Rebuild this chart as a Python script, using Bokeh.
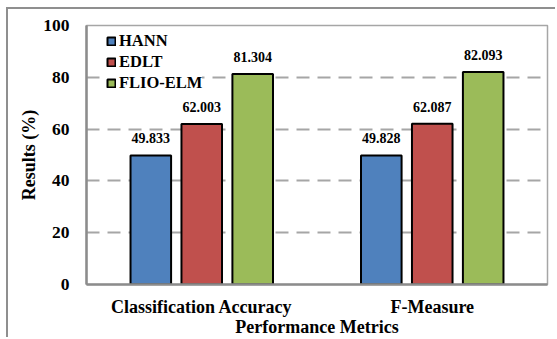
import math
from bokeh.plotting import figure
from bokeh.models import ColumnDataSource, FactorRange, Range1d, LabelSet, Title, FixedTicker
from bokeh.transform import dodge
from bokeh.embed import file_html
from bokeh.resources import INLINE

categories = ["Classification Accuracy", "F-Measure"]
series = ["HANN", "EDLT", "FLIO-ELM"]
hann = [49.833, 49.828]
edlt = [62.003, 62.087]
flio = [81.304, 82.093]
colors = ["#4F81BD", "#C0504D", "#9BBB59"]
y_ticks = [0, 20, 40, 60, 80, 100]

FONT = "'Liberation Serif', 'DejaVu Serif', serif"

src = ColumnDataSource(data=dict(
    cats=categories,
    HANN=hann, EDLT=edlt, FLIO=flio,
    HANN_t=[f"{v:.3f}" for v in hann],
    EDLT_t=[f"{v:.3f}" for v in edlt],
    FLIO_t=[f"{v:.3f}" for v in flio],
))

p = figure(x_range=FactorRange(*categories, range_padding=0), y_range=Range1d(0, 100),
           width=549, height=330, output_backend="svg", toolbar_location=None,
           min_border_left=78, min_border_top=16, min_border_right=10, min_border_bottom=53)
p.margin = (7, 0, 0, 6)
p.styles = {"border-left": "2px solid #8f8f8f", "border-top": "2px solid #8f8f8f"}

offsets = [-0.221, 0.0, 0.221]
cols = ["HANN", "EDLT", "FLIO"]
for name, col, off, c in zip(series, cols, offsets, colors):
    p.vbar(x=dodge("cats", off, range=p.x_range), top=col, width=0.176, source=src,
           fill_color=c, line_color="black", line_width=2, legend_label=name)
    lbl = LabelSet(x=dodge("cats", off, range=p.x_range), y=col, text=col + "_t", source=src,
                   y_offset=12, text_align="center", text_baseline="bottom",
                   text_font=FONT, text_font_style="bold", text_font_size="14px", text_color="black")
    p.add_layout(lbl)

p.outline_line_color = "#a6a6a6"
p.outline_line_width = 1.5
p.xgrid.grid_line_color = None
p.ygrid.ticker = FixedTicker(ticks=y_ticks)
p.ygrid.grid_line_color = "#a6a6a6"
p.ygrid.grid_line_width = 2
p.ygrid.grid_line_dash = "13 8"

p.yaxis.ticker = FixedTicker(ticks=y_ticks)
for ax in (p.xaxis[0], p.yaxis[0]):
    ax.axis_line_color = "#8c8c8c"
    ax.axis_line_width = 2.5
    ax.major_tick_line_color = None
    ax.minor_tick_line_color = None
    ax.major_tick_out = 0
    ax.major_tick_in = 0
    ax.minor_tick_out = 0
    ax.minor_tick_in = 0
    ax.major_label_text_font = FONT
    ax.major_label_text_font_style = "bold"
    ax.major_label_text_color = "black"
p.yaxis.major_label_text_font_size = "17.5px"
p.yaxis.major_label_standoff = 17
p.xaxis.major_label_text_font_size = "18px"
p.xaxis.major_label_standoff = 12
p.xaxis.axis_label = "Performance Metrics"
p.xaxis.axis_label_text_font = FONT
p.xaxis.axis_label_text_font_style = "bold"
p.xaxis.axis_label_text_font_size = "18px"
p.xaxis.axis_label_text_color = "black"
p.xaxis.axis_label_standoff = -3

ytitle = Title(text="Results (%)", align="center", offset=-25, standoff=4,
               text_font=FONT, text_font_style="bold", text_font_size="18px", text_color="black")
p.add_layout(ytitle, "left")

lg = p.legend[0]
lg.location = (20, 191)
lg.margin = 0
lg.padding = 9
lg.spacing = 1
lg.label_height = 19
lg.glyph_height = 10
lg.glyph_width = 10
lg.label_standoff = 3
lg.border_line_color = None
lg.background_fill_alpha = 1
lg.label_text_font = FONT
lg.label_text_font_style = "bold"
lg.label_text_font_size = "16.5px"
lg.label_text_color = "black"

open("out.html", "w").write(file_html(p, INLINE))
